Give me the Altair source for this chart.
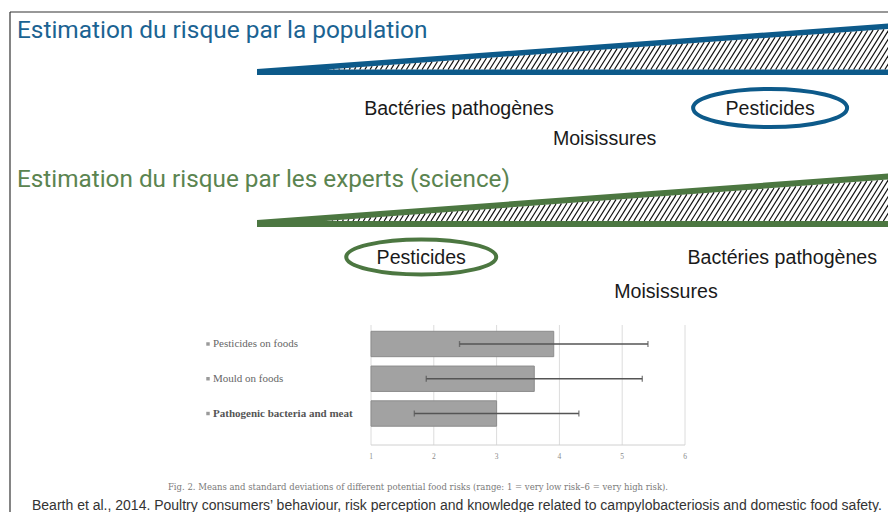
import altair as alt
import pandas as pd

# ------------------------------------------------------------------ data
hazards = ["Bactéries pathogènes", "Moisissures", "Pesticides"]
# relative position along each wedge (0 = lowest perceived risk, 1 = highest)
risk_population = [0.316, 0.544, 0.803]
risk_experts = [0.822, 0.640, 0.257]
highlight = "Pesticides"

bar_categories = ["Pesticides on foods", "Mould on foods", "Pathogenic bacteria and meat"]
bar_means = [3.91, 3.60, 3.00]
bar_sds = [1.50, 1.72, 1.31]
axis_ticks = [1, 2, 3, 4, 5, 6]

title_population = "Estimation du risque par la population"
title_experts = "Estimation du risque par les experts (science)"
fig_caption = ("Fig. 2. Means and standard deviations of different potential food risks "
               "(range: 1 = very low risk\u20136 = very high risk).")
citation = ("Bearth et al., 2014. Poultry consumers\u2019 behaviour, risk perception and knowledge "
            "related to campylobacteriosis and domestic food safety.")

# ------------------------------------------------------------------ layout / style
W, H = 880, 504
OFF = 8


def px(v):
    return v - OFF


BLUE = "#0d5a8a"
BLUE_TXT = "#1b6392"
GREEN = "#4c7741"
GREEN_TXT = "#5b8450"
TIP, END = 257, 896
LABEL_ROW = {"Bactéries pathogènes": 0, "Moisissures": 1, "Pesticides": 0}


def XP(f):
    return alt.X(f"{f}:Q", scale=None, axis=None)


def YP(f):
    return alt.Y(f"{f}:Q", scale=None, axis=None)


layers = []

# frame
frame = pd.DataFrame({"x": [px(10), px(10)], "y": [px(12), px(12)],
                      "x2": [px(10), W + 2], "y2": [H + 2, px(12)]})
layers.append(alt.Chart(frame).mark_rule(color="#333333", strokeWidth=1.2).encode(
    x=XP("x"), y=YP("y"), x2="x2:Q", y2="y2:Q"))


def title_layer(text, y, color, size):
    return alt.Chart(pd.DataFrame({"t": [text]})).mark_text(
        font="Roboto", fontSize=size, color=color, align="left", baseline="alphabetic"
    ).encode(text="t:N", x=alt.value(px(17)), y=alt.value(px(y)))


layers.append(title_layer(title_population, 38, BLUE_TXT, 24.4))
layers.append(title_layer(title_experts, 187, GREEN_TXT, 24.3))


def wedge_layers(top_tip, top_end, bot_top, bot_bottom, th, color):
    s = (top_tip - top_end) / (END - TIP)
    out = []
    outer = pd.DataFrame({"x": [px(TIP), px(END)], "y": [px(top_tip), px(top_end)],
                          "y2": [px(bot_bottom), px(bot_bottom)]})
    out.append(alt.Chart(outer).mark_area(color=color, opacity=1).encode(
        x=XP("x"), y=YP("y"), y2="y2:Q"))
    A = top_tip + th
    xs = TIP + (A - bot_top) / s
    inner_end = A - s * (END - TIP)
    inner = pd.DataFrame({"x": [px(xs), px(END)], "y": [px(bot_top), px(inner_end)],
                          "y2": [px(bot_top), px(bot_top)]})
    out.append(alt.Chart(inner).mark_area(color="white", opacity=1).encode(
        x=XP("x"), y=YP("y"), y2="y2:Q"))
    k = 1.6
    spacing = 5.2
    rows = []
    x0 = xs + 2
    while x0 < END:
        t = (s * (x0 - TIP) - (A - bot_top)) / (k - s)
        if t > 0:
            rows.append({"x": px(x0), "y": px(bot_top), "x2": px(x0 + t), "y2": px(bot_top - k * t)})
        x0 += spacing
    out.append(alt.Chart(pd.DataFrame(rows)).mark_rule(color="#111111", strokeWidth=1.2).encode(
        x=XP("x"), y=YP("y"), x2="x2:Q", y2="y2:Q"))
    return out


layers += wedge_layers(69, 23, 69.5, 75, 5.5, BLUE)
layers += wedge_layers(220, 173, 221, 227, 6, GREEN)

risk_scale = alt.Scale(domain=[0, 1], range=[px(TIP), px(END)], zero=False, nice=False)


def ellipse_path(r):
    k = 0.5523
    return (f"M -1 0 C -1 {-k*r:.4f} {-k:.4f} {-r:.4f} 0 {-r:.4f} "
            f"C {k:.4f} {-r:.4f} 1 {-k*r:.4f} 1 0 "
            f"C 1 {k*r:.4f} {k:.4f} {r:.4f} 0 {r:.4f} "
            f"C {-k:.4f} {r:.4f} -1 {k*r:.4f} -1 0 Z")


def label_layers(risks, base_y, step, color, ew, eh):
    df = pd.DataFrame({"hazard": hazards, "risk": risks})
    df["ypix"] = [px(base_y + step * LABEL_ROW[h]) for h in hazards]
    df["ey"] = df["ypix"] - 1
    base = alt.Chart(df)
    txt = base.mark_text(font="Liberation Sans", fontSize=19.6, color="#1a1a1a",
                         align="center", baseline="middle").encode(
        x=alt.X("risk:Q", scale=risk_scale, axis=None), y=YP("ypix"), text="hazard:N")
    ell = base.transform_filter(alt.datum.hazard == highlight).mark_point(
        shape=ellipse_path(eh / ew), size=ew * ew, filled=False, strokeWidth=4,
        color=color, opacity=1).encode(
        x=alt.X("risk:Q", scale=risk_scale, axis=None), y=YP("ey"))
    return [ell, txt]


layers += label_layers(risk_population, 109, 30, BLUE, 154, 38)
layers += label_layers(risk_experts, 258, 34, GREEN, 150, 35)

# ------------------------------------------------------------------ embedded bar chart
bdf = pd.DataFrame({"category": bar_categories, "mean": bar_means, "sd": bar_sds})
bdf["low"] = bdf["mean"] - bdf["sd"]
bdf["high"] = bdf["mean"] + bdf["sd"]
bdf["base"] = 1
bdf["bold"] = [c == "Pathogenic bacteria and meat" for c in bar_categories]

xs_b = alt.Scale(domain=[1, 6], range=[px(371), px(685)], zero=False, nice=False)
ys_b = alt.Scale(domain=bar_categories, range=[px(326.6), px(430.9)],
                 paddingInner=0.27, paddingOuter=0.135)
XB = lambda f: alt.X(f"{f}:Q", scale=xs_b, axis=None)
YB = alt.Y("category:N", scale=ys_b, axis=None)

tdf = pd.DataFrame({"tick": axis_ticks})
layers.append(alt.Chart(tdf).mark_rule(color="#dcdcdc", strokeWidth=1).encode(
    x=XB("tick"), y=alt.value(px(325)), y2=alt.value(px(445))))
layers.append(alt.Chart(pd.DataFrame({"a": [axis_ticks[0]], "b": [axis_ticks[-1]]})).mark_rule(
    color="#d0d0d0", strokeWidth=1).encode(x=XB("a"), x2="b:Q", y=alt.value(px(445))))
layers.append(alt.Chart(tdf).mark_text(font="Liberation Serif", fontSize=7.5, color="#8a8a8a",
                                       baseline="middle").encode(
    x=XB("tick"), y=alt.value(px(457)), text="tick:Q"))

bb = alt.Chart(bdf)
layers.append(bb.mark_bar(color="#a2a2a2", stroke="#8c8c8c", strokeWidth=1).encode(
    x=XB("base"), x2="mean:Q", y=YB))
layers.append(bb.mark_rule(color="#555555", strokeWidth=1.4).encode(
    x=XB("low"), x2="high:Q", y=YB))
layers.append(bb.mark_tick(color="#555555", thickness=1.4, size=6).encode(x=XB("low"), y=YB))
layers.append(bb.mark_tick(color="#555555", thickness=1.4, size=6).encode(x=XB("high"), y=YB))
layers.append(bb.mark_square(size=12, color="#9a9a9a", opacity=1).encode(
    x=alt.value(px(208)), y=YB))
layers.append(bb.transform_filter("!datum.bold").mark_text(
    font="Liberation Serif", fontSize=11, color="#666666", align="left", baseline="middle").encode(
    x=alt.value(px(213)), y=YB, text="category:N"))
layers.append(bb.transform_filter("datum.bold").mark_text(
    font="Liberation Serif", fontSize=11, fontWeight="bold", color="#555555", align="left",
    baseline="middle").encode(x=alt.value(px(213)), y=YB, text="category:N"))

# captions
layers.append(alt.Chart(pd.DataFrame({"t": [fig_caption]})).mark_text(
    font="DejaVu Serif", fontSize=8.5, color="#7a7a7a", align="center", baseline="middle").encode(
    text="t:N", x=alt.value(px(418)), y=alt.value(px(487))))
layers.append(alt.Chart(pd.DataFrame({"t": [citation]})).mark_text(
    font="Liberation Sans", fontSize=14, color="#333333", align="left", baseline="middle").encode(
    text="t:N", x=alt.value(px(32)), y=alt.value(px(506))))

chart = alt.layer(*layers).resolve_scale(x="independent", y="independent").properties(
    width=W, height=H, autosize=alt.AutoSizeParams(type="none"), padding=0,
    background="white").configure_view(stroke=None)

chart.save("out.html", embed_options={"renderer": "svg", "actions": False})
